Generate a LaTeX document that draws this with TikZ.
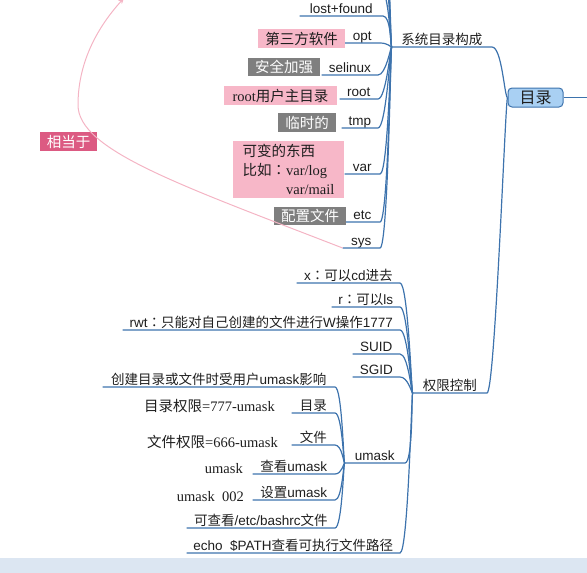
\documentclass[tikz,border=0pt]{standalone}
\usepackage{fontspec}
\setmainfont{Liberation Sans}
\newfontfamily\cjk{Noto Sans CJK SC}
\newfontfamily\cjktc{Noto Sans CJK TC}
\newfontfamily\lser{Liberation Serif}
\newcommand\fwcolon{{\cjktc ：}}
\usetikzlibrary{arrows.meta}
\definecolor{lineblue}{HTML}{3D73AD}
\definecolor{pinkbox}{HTML}{F7B7C8}
\definecolor{graybox}{HTML}{7F7F7F}
\definecolor{labelred}{HTML}{DC5A82}
\definecolor{pinkline}{HTML}{F4B4C4}
\definecolor{rootfill}{HTML}{A9D0F3}
\definecolor{stripblue}{HTML}{DCE6F2}
\definecolor{txt}{HTML}{1E1E1E}
\begin{document}
\begin{tikzpicture}[x=1pt,y=-1pt,
  topic/.style={anchor=south east, inner xsep=0pt, inner ysep=0.8pt, text height=9.5pt, text depth=2pt, font=\fontsize{13.5}{15}\selectfont, text=txt},
  conn/.style={draw=lineblue, line width=1.2pt},
  pinknote/.style={fill=pinkbox, inner sep=0pt, font=\fontsize{14.5}{16}\selectfont, text=txt},
  graynote/.style={fill=graybox, inner sep=0pt, font=\fontsize{14.5}{16}\selectfont, text=white},
  serlabel/.style={anchor=east, inner sep=0pt, font=\fontsize{14.5}{16}\selectfont\lser, text=txt},
  rootbox/.style={draw=lineblue, line width=1pt, fill=rootfill, rounded corners=4pt, inner sep=0pt, minimum width=55, minimum height=19, font=\fontsize{16}{18}\selectfont, text=txt},
  eqbox/.style={fill=labelred, inner sep=0pt, minimum width=57, minimum height=19, font=\fontsize{14.5}{16}\selectfont, text=white},
  pinkc/.style={draw=pinkline, line width=1pt}
]
\path[use as bounding box] (0,0) rectangle (587,573);
\clip (0,0) rectangle (587,573);
\fill[stripblue] (0,558) rectangle (587,573);

% root and main branches
\node[rootbox] (root) at (535.5,97.5) {\cjk 目录};
\coordinate (rootout) at (588,97.5);
\draw[conn] (root.east) -- (rootout);

\node[topic, minimum width=100] (sysdir) at (492,47) {\cjk 系统目录构成};
\node[topic, minimum width=74] (perm) at (487,393) {\cjk 权限控制};
\draw[conn] (sysdir.south west) -- (sysdir.south east) .. controls +(10,0) and +(-3,0) .. (root.west);
\draw[conn] (perm.south west) -- (perm.south east) .. controls +(8,0) and +(-2,0) .. (root.west);

% children of system dirs
\node[topic, minimum width=83] (lf) at (383,16) {lost+found};
\node[topic, minimum width=35] (opt) at (380,43) {opt};
\node[topic, minimum width=56] (selinux) at (378,75) {selinux};
\node[topic, minimum width=38] (rootdir) at (378,99) {root};
\node[topic, minimum width=36] (tmp) at (378,128) {tmp};
\node[topic, minimum width=35] (var) at (380,174) {var};
\node[topic, minimum width=35] (etc) at (380,222) {etc};
\node[topic, minimum width=37] (sys) at (380,248) {sys};
\foreach \n in {lf,opt,selinux,rootdir,tmp,var,etc,sys}
  \draw[conn] (\n.south west) -- (\n.south east) .. controls +(8,0) and +(-1,0) .. (sysdir.south west);
\coordinate (up1) at (381,-10);
\coordinate (up2) at (381,-38);
\coordinate (up3) at (381,-66);
\coordinate (up4) at (381,-94);
\foreach \n in {up1,up2,up3,up4}
  \draw[conn] (\n) .. controls +(8,0) and +(-1,0) .. (sysdir.south west);

% notes
\node[pinknote, minimum width=87, minimum height=19] (nopt) at (301.5,38.5) {\cjk 第三方软件};
\node[graynote, minimum width=72, minimum height=18] (nsel) at (284,67) {\cjk 安全加强};
\node[pinknote, minimum width=113, minimum height=19] (nroot) at (280.5,95.5) {{\lser root}{\cjk 用户主目录}};
\node[graynote, minimum width=58, minimum height=19] (ntmp) at (307,122.5) {\cjk 临时的};
\node[pinknote, minimum width=111, minimum height=57, align=left, font=\fontsize{14.5}{19}\selectfont] (nvar) at (288.5,169.5)
  {{\cjk 可变的东西}\\{\cjk 比如}\fwcolon{\lser var/log}\\\hphantom{{\cjk 比如}\fwcolon}{\lser var/mail}};
\node[graynote, minimum width=72, minimum height=18] (netc) at (310,216) {\cjk 配置文件};

% "equivalent to" arrow
\node[eqbox] (eq) at (68.5,141.5) {\cjk 相当于};
\coordinate (eqA) at (78,105);
\coordinate (eqtip) at (124,-2);
\draw[pinkc, -{Stealth[length=6pt,width=5pt]}] (sys.south west) .. controls (180,185) and (78,150) .. (eqA) .. controls (78,65) and (95,30) .. (eqtip);

% permission children
\node[topic, minimum width=103] (px) at (400,283) {x\fwcolon{\cjk 可以}cd{\cjk 进去}};
\node[topic, minimum width=68] (pr) at (400,307) {r\fwcolon{\cjk 可以}ls};
\node[topic, minimum width=277] (prwt) at (400,330) {rwt\fwcolon{\cjk 只能对自己创建的文件进行}W{\cjk 操作}1777};
\node[topic, minimum width=47] (psuid) at (400,354) {SUID};
\node[topic, minimum width=47] (psgid) at (400,377) {SGID};
\node[topic, minimum width=60] (pumask) at (405,463) {umask};
\node[topic, minimum width=213] (pecho) at (400,553) {echo\ \ \$PATH{\cjk 查看可执行文件路径}};
\foreach \n in {px,pr,prwt,psuid,psgid,pumask,pecho}
  \draw[conn] (\n.south west) -- (\n.south east) .. controls +(8,0) and +(-1,0) .. (perm.south west);

% umask children
\node[topic, minimum width=232] (u1) at (335,387) {{\cjk 创建目录或文件时受用户}umask{\cjk 影响}};
\node[topic, minimum width=43] (u2) at (335,413) {\cjk 目录};
\node[topic, minimum width=43] (u3) at (335,445) {\cjk 文件};
\node[topic, minimum width=82] (u4) at (335,474) {{\cjk 查看}umask};
\node[topic, minimum width=82] (u5) at (335,500) {{\cjk 设置}umask};
\node[topic, minimum width=148] (u6) at (335,528) {{\cjk 可查看}/etc/bashrc{\cjk 文件}};
\foreach \n in {u1,u2,u3,u4,u5,u6}
  \draw[conn] (\n.south west) -- (\n.south east) .. controls +(7,0) and +(-1,0) .. (pumask.south west);

% free labels
\node[serlabel] (l1) at (275,406) {{\cjk 目录权限}=777-umask};
\node[serlabel] (l2) at (278,442) {{\cjk 文件权限}=666-umask};
\node[serlabel] (l3) at (243,469) {umask};
\node[serlabel] (l4) at (244,497) {umask\ \ 002};
\end{tikzpicture}
\end{document}
